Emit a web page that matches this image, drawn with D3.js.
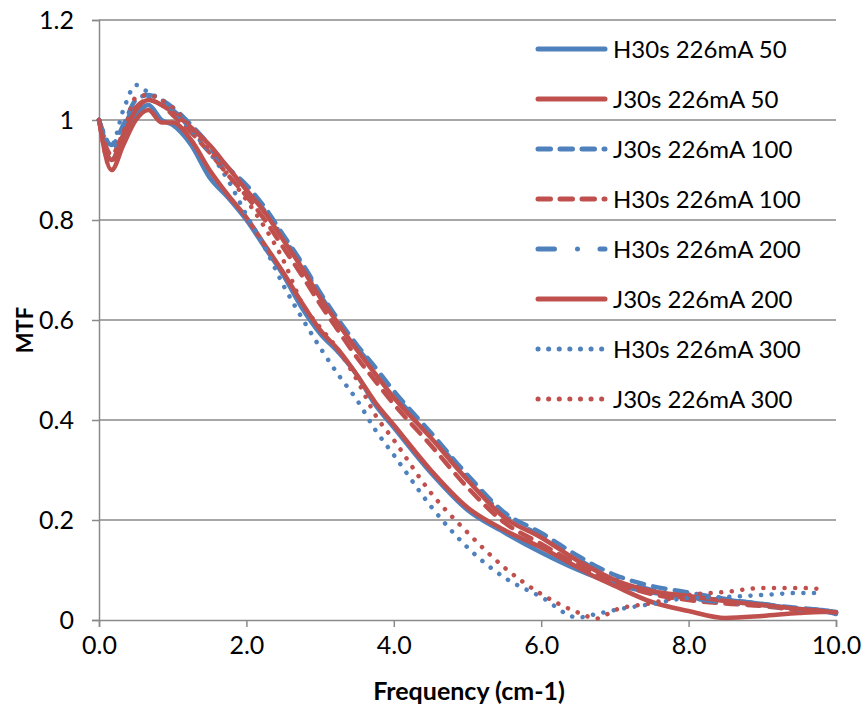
<!DOCTYPE html>
<html>
<head>
<meta charset="utf-8">
<script src="https://cdn.jsdelivr.net/npm/d3@7"></script>
<style>
  body { margin: 0; background: #fff; }
  svg { font-family: Lato, "Open Sans", sans-serif; }
</style>
</head>
<body>
<svg></svg>
<script>
// frequency sample points (cm-1)
const freq = [0, 0.17, 0.33, 0.5, 0.67, 0.85, 1.0, 1.25, 1.5, 1.75, 2.0, 2.25, 2.5, 2.75, 3.0, 3.25, 3.5, 3.75, 4.0, 4.5, 5.0, 5.5, 6.0, 6.5, 6.75, 7.0, 7.5, 8.0, 8.5, 9.0, 9.5, 9.8, 10.0];

const h50  = [1.0, 0.92, 0.97, 1.01, 1.03, 1.0, 0.99, 0.95, 0.885, 0.845, 0.8, 0.745, 0.69, 0.625, 0.573, 0.535, 0.49, 0.43, 0.385, 0.295, 0.22, 0.175, 0.135, 0.1, 0.085, 0.072, 0.055, 0.045, 0.04, 0.032, 0.022, 0.02, 0.014];
const j50  = [1.0, 0.9, 0.95, 1.0, 1.02, 0.995, 0.995, 0.96, 0.9, 0.85, 0.805, 0.75, 0.695, 0.635, 0.58, 0.54, 0.49, 0.435, 0.39, 0.3, 0.225, 0.18, 0.145, 0.105, 0.085, 0.068, 0.036, 0.018, 0.004, 0.008, 0.014, 0.016, 0.016];
const j100 = [1.0, 0.95, 0.99, 1.04, 1.05, 1.04, 1.025, 0.99, 0.95, 0.905, 0.87, 0.825, 0.77, 0.715, 0.655, 0.6, 0.55, 0.505, 0.458, 0.375, 0.29, 0.215, 0.174, 0.128, 0.107, 0.09, 0.068, 0.055, 0.042, 0.032, 0.024, 0.02, 0.016];
const h100 = [1.0, 0.93, 0.975, 1.025, 1.04, 1.03, 1.01, 0.975, 0.935, 0.89, 0.848, 0.8, 0.745, 0.69, 0.632, 0.578, 0.525, 0.478, 0.432, 0.35, 0.265, 0.195, 0.152, 0.11, 0.09, 0.075, 0.052, 0.04, 0.033, 0.028, 0.02, 0.018, 0.015];
const h200 = [1.0, 0.94, 0.98, 1.035, 1.045, 1.035, 1.02, 0.985, 0.945, 0.9, 0.862, 0.818, 0.765, 0.71, 0.65, 0.595, 0.545, 0.5, 0.452, 0.37, 0.285, 0.21, 0.168, 0.122, 0.1, 0.085, 0.06, 0.045, 0.035, 0.03, 0.02, 0.018, 0.012];
const j200 = [1.0, 0.92, 0.97, 1.02, 1.04, 1.03, 1.015, 0.985, 0.95, 0.905, 0.86, 0.815, 0.76, 0.705, 0.645, 0.592, 0.54, 0.492, 0.445, 0.365, 0.28, 0.205, 0.165, 0.118, 0.098, 0.08, 0.058, 0.048, 0.038, 0.03, 0.022, 0.018, 0.015];
const h300 = [1.0, 0.95, 1.02, 1.07, 1.055, 1.04, 1.02, 0.98, 0.935, 0.88, 0.81, 0.745, 0.67, 0.605, 0.545, 0.49, 0.44, 0.38, 0.33, 0.228, 0.145, 0.085, 0.046, 0.005, 0.012, 0.02, 0.032, 0.044, 0.046, 0.05, 0.054, 0.054, null];
const j300 = [1.0, 0.9, 0.97, 1.045, 1.05, 1.04, 1.025, 0.985, 0.94, 0.89, 0.84, 0.785, 0.72, 0.635, 0.585, 0.54, 0.48, 0.41, 0.36, 0.255, 0.175, 0.105, 0.052, 0.015, 0.003, 0.02, 0.034, 0.05, 0.056, 0.064, 0.064, 0.062, null];

const seriesNames = ["H30s 226mA 50", "J30s 226mA 50", "J30s 226mA 100", "H30s 226mA 100", "H30s 226mA 200", "J30s 226mA 200", "H30s 226mA 300", "J30s 226mA 300"];
const seriesValues = [h50, j50, j100, h100, h200, j200, h300, j300];

const xTicks = [0, 2, 4, 6, 8, 10];
const yTicks = [0, 0.2, 0.4, 0.6, 0.8, 1, 1.2];

const blue = "#4F81BD";
const red = "#C0504D";
const styles = [
  { color: blue, dash: null },
  { color: red, dash: null },
  { color: blue, dash: "12.5,9.5" },
  { color: red, dash: "12.5,9.5" },
  { color: blue, dash: "16.5,23,0,22.5" },
  { color: red, dash: null },
  { color: blue, dash: "0.1,10.5" },
  { color: red, dash: "0.1,10.5" }
];

const W = 865, H = 711;
const plotLeft = 99, plotRight = 836, plotTop = 20, plotBottom = 620;

const svg = d3.select("svg")
    .attr("width", W)
    .attr("height", H);

const xScale = d3.scaleLinear().domain([0, 10]).range([plotLeft, plotRight]);
const yScale = d3.scaleLinear().domain([0, 1.2]).range([plotBottom, plotTop]);

// gridlines
svg.append("g")
    .selectAll("line")
    .data(yTicks.filter(d => d > 0))
    .enter().append("line")
    .attr("x1", plotLeft)
    .attr("x2", plotRight)
    .attr("y1", d => yScale(d))
    .attr("y2", d => yScale(d))
    .attr("stroke", "#8a8a8a")
    .attr("stroke-width", 1.5);

// y axis
const yAxis = svg.append("g")
    .attr("transform", `translate(${plotLeft},0)`)
    .call(d3.axisLeft(yScale).tickValues(yTicks).tickSize(7).tickPadding(18)
      .tickFormat(d => d === 0 || d === 1 ? String(d) : d3.format(".1f")(d)));

// x axis
const xAxis = svg.append("g")
    .attr("transform", `translate(0,${plotBottom})`)
    .call(d3.axisBottom(xScale).tickValues(xTicks).tickSize(7).tickPadding(9)
      .tickFormat(d3.format(".1f")));

[yAxis, xAxis].forEach(ax => {
  ax.select(".domain").attr("stroke", "#8a8a8a").attr("stroke-width", 1.5);
  ax.selectAll(".tick line").attr("stroke", "#8a8a8a").attr("stroke-width", 1.5);
  ax.selectAll(".tick text").attr("fill", "#000").style("font-size", "25px").style("font-family", "Lato");
});
xAxis.selectAll(".tick text").attr("dy", "0.72em");

// lines
const line = d3.line()
    .defined(d => d[1] != null)
    .x(d => xScale(d[0]))
    .y(d => yScale(d[1]))
    .curve(d3.curveMonotoneX);

svg.append("g")
    .selectAll("path")
    .data(seriesValues)
    .enter().append("path")
    .attr("d", vals => line(freq.map((f, i) => [f, vals[i]])))
    .attr("fill", "none")
    .attr("stroke", (d, i) => styles[i].color)
    .attr("stroke-width", 4.5)
    .attr("stroke-linecap", "round")
    .attr("stroke-linejoin", "round")
    .attr("stroke-dasharray", (d, i) => styles[i].dash);

// legend
const legend = svg.append("g")
    .selectAll("g")
    .data(seriesNames)
    .enter().append("g")
    .attr("transform", (d, i) => `translate(536,${49 + i * 50})`);

legend.append("line")
    .attr("x1", 2)
    .attr("x2", 69)
    .attr("stroke", (d, i) => styles[i].color)
    .attr("stroke-width", 5)
    .attr("stroke-linecap", "round")
    .attr("stroke-dasharray", (d, i) => styles[i].dash);

legend.append("text")
    .attr("x", 77)
    .attr("dy", "0.36em")
    .style("font-size", "24px")
    .text(d => d);

// axis titles
svg.append("text")
    .attr("transform", "translate(33,330) rotate(-90)")
    .attr("text-anchor", "middle")
    .style("font-size", "22px")
    .style("font-weight", "bold")
    .text("MTF");

svg.append("text")
    .attr("x", 469)
    .attr("y", 700)
    .attr("text-anchor", "middle")
    .style("font-size", "25px")
    .style("font-weight", "bold")
    .text("Frequency (cm-1)");
</script>
</body>
</html>
